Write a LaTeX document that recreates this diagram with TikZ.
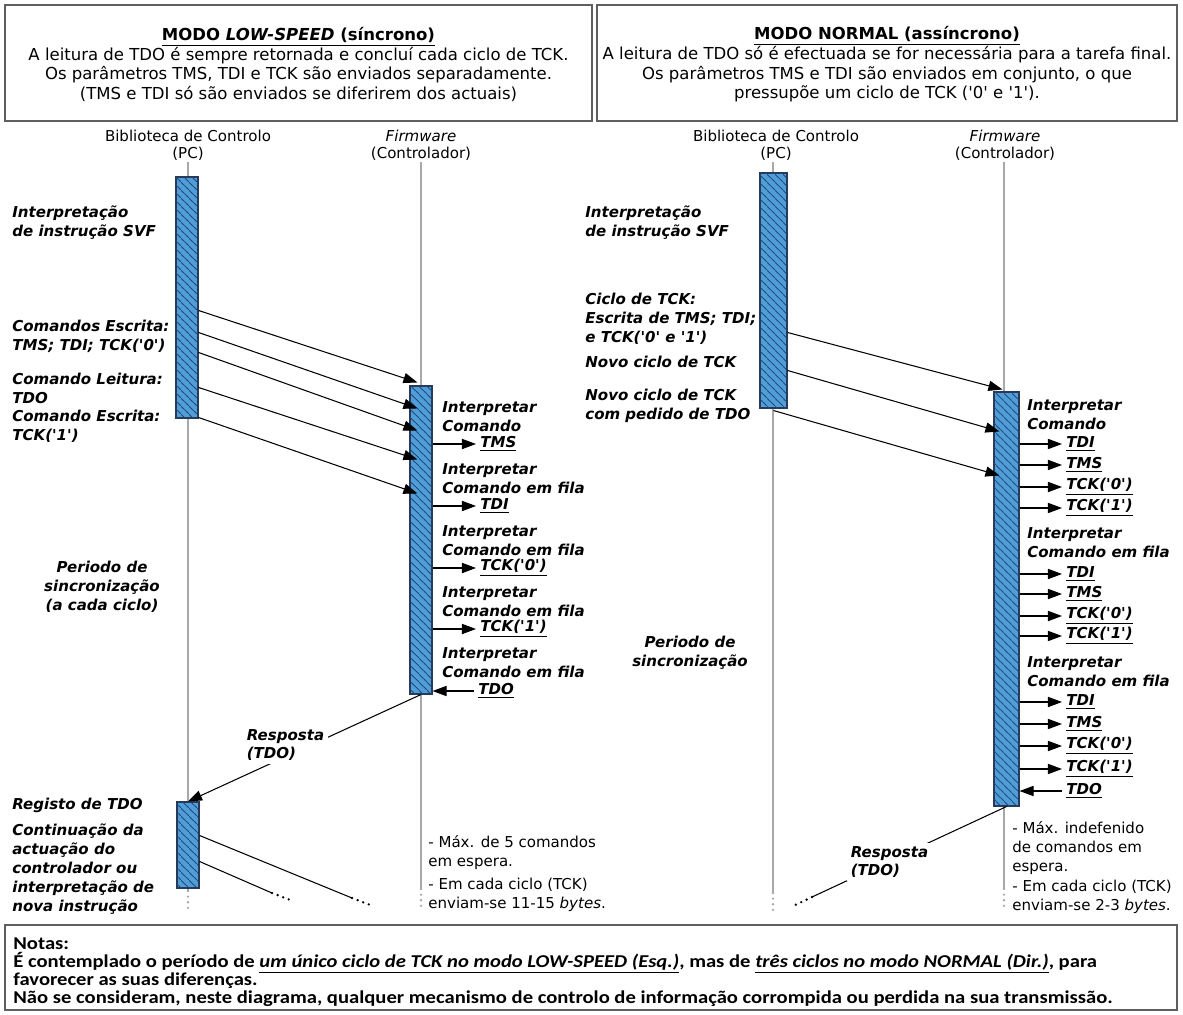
\documentclass[tikz,border=0pt]{standalone}
\usepackage{fontspec}
\setmainfont{DejaVu Sans}
\newfontfamily\notefont[FakeStretch=1.14]{Carlito}
\usetikzlibrary{positioning}
\usetikzlibrary{calc}
\usetikzlibrary{arrows.meta}
\usetikzlibrary{patterns.meta}
\usetikzlibrary{fit}
\definecolor{actblue}{RGB}{80,158,216}
\definecolor{hatchblue}{RGB}{30,70,120}
\definecolor{actedge}{RGB}{40,58,88}
\definecolor{lifegray}{RGB}{168,168,168}
\definecolor{boxgray}{RGB}{95,95,95}
\newcommand{\q}{\textquotesingle}
\newcommand{\sig}[1]{\underline{\textbf{\textit{#1}}}}
\newcommand{\fixedlines}{\lineskiplimit=-20pt\relax}
\tikzdeclarepattern{name=hatch, type=uncolored,
  bounding box={(0pt,0pt) and (4.5pt,4.5pt)}, tile size={(4.5pt,4.5pt)},
  code={\draw[line width=0.5pt] (0pt,4.5pt) -- (4.5pt,0pt);}}

\tikzset{
  act/.style={draw=actedge, line width=0.6pt, fill=actblue, inner sep=0pt,
    postaction={pattern=hatch, pattern color=hatchblue}},
  life/.style={draw=lifegray, line width=0.9pt},
  lifedots/.style={draw=lifegray, line width=1.5pt, line cap=round, dash pattern=on 0pt off 3.2pt},
  dots/.style={line width=1.5pt, line cap=round, dash pattern=on 0pt off 3.4pt},
  msg/.style={-{Triangle[length=8pt,width=5.8pt]}, line width=0.6pt},
  hdr/.style={draw=boxgray, line width=0.7pt, inner sep=0pt},
  hdr text/.style={font=\fontsize{9.4}{11.2}\selectfont\fixedlines, align=center, inner sep=0pt},
  who/.style={font=\fontsize{8.55}{9.7}\selectfont\fixedlines, align=center, inner sep=0pt},
  act label/.style={font=\fontsize{8.55}{10.8}\selectfont\bfseries\itshape, align=left, anchor=west, inner sep=0pt},
  plain/.style={font=\fontsize{8.55}{10.8}\selectfont, align=left, anchor=west, inner sep=0pt},
  sig label/.style={font=\fontsize{8.55}{10.8}\selectfont, anchor=west, inner sep=0pt, outer xsep=2.5pt},
}

\begin{document}
\begin{tikzpicture}[x=0.02cm, y=-0.02cm]
\useasboundingbox (0,0) rectangle (1183,1014);

% mode headers
\node[hdr, fit={(5,5)(592,121)}] (hdrL) {};
\node[hdr, fit={(597,5)(1177,121)}] (hdrR) {};
\node[hdr text] (hdrLtxt) at ($(hdrL)+(0,1.5)$) {%
  \underline{\textbf{MODO \textit{LOW-SPEED} (síncrono)}}\\
  A leitura de TDO é sempre retornada e concluí cada ciclo de TCK.\\
  Os parâmetros TMS, TDI e TCK são enviados separadamente.\\
  (TMS e TDI só são enviados se diferirem dos actuais)};
\node[hdr text] (hdrRtxt) at ($(hdrR)+(0,1.5)$) {%
  \underline{\textbf{MODO NORMAL (assíncrono)}}\\
  A leitura de TDO só é efectuada se for necessária para a tarefa final.\\
  Os parâmetros TMS e TDI são enviados em conjunto, o que\\
  pressupõe um ciclo de TCK (\q0\q{} e \q1\q).};

% participants
\node[who] (libL) at (188,145) {Biblioteca de Controlo\\(PC)};
\node[who] (fwL) at (421,145) {\textit{Firmware}\\(Controlador)};
\node[who] (libR) at (776,145) {Biblioteca de Controlo\\(PC)};
\node[who] (fwR) at (1005,145) {\textit{Firmware}\\(Controlador)};

% lifelines
\coordinate (pcLtop) at (188,162);  \coordinate (pcLend) at (188,891);
\coordinate (fwLtop) at (421,162);  \coordinate (fwLend) at (421,889);
\coordinate (pcRtop) at (773,162);  \coordinate (pcRend) at (773,893);
\coordinate (fwRtop) at (1004,162); \coordinate (fwRend) at (1004,889);
\foreach \n in {pcL, fwL, pcR, fwR} {
  \draw[life] (\n top) -- (\n end);
  \draw[lifedots] (\n end) -- ++(0,22);
}

% activation boxes
\node[act, fit={(176,177)(198,418)}] (pcL1) {};
\node[act, fit={(410,386)(432,694)}] (fwL1) {};
\node[act, fit={(177,802)(199,888)}] (pcL2) {};
\node[act, fit={(760,173)(787,408)}] (pcR1) {};
\node[act, fit={(994,392)(1019,806)}] (fwR1) {};

% LOW-SPEED: PC side
\node[act label] (svfL) at (12,222.5) {Interpretação\\de instrução SVF};
\node[act label] (wrL) at (12,336) {Comandos Escrita:\\TMS; TDI; TCK(\q0\q)};
\node[act label] (rdL) at (12,388) {Comando Leitura:\\TDO};
\node[act label] (ckL) at (12,426.5) {Comando Escrita:\\TCK(\q1\q)};
\node[act label, anchor=center, align=center] (syncL) at (102,587) {Periodo de\\sincronização\\(a cada ciclo)};
\node[act label] (regL) at (12,805) {Registo de TDO};
\node[act label] (contL) at (12,869) {Continuação da\\actuação do\\controlador ou\\interpretação de\\nova instrução};

% commands sent to the controller
\foreach \a/\b in {134/-3, 156/23, 176/45, 211/74, 241/108}
  \draw[msg] ($(pcL1.north east)+(0,\a)$) -- ($(fwL1.north west)+(8,\b)$);

% LOW-SPEED: controller side
\foreach \y/\t [count=\i] in {416.5/Comando, 478.5/Comando em fila, 540.5/Comando em fila, 602/Comando em fila, 663/Comando em fila}
  \node[act label] (itL\i) at (442,\y) {Interpretar\\\t};
\foreach \y/\s [count=\i] in {444/TMS, 506/TDI, 568/TCK(\q0\q), 629/TCK(\q1\q)} {
  \node[sig label] (sL\i) at (476,\y) {\sig{\s}};
  \draw[msg] (fwL1.east |- sL\i) -- (sL\i);
}
\node[sig label] (tdoL) at (474,691) {\sig{TDO}};
\draw[msg] (tdoL) -- (fwL1.east |- tdoL);

% reply
\draw[msg] (fwL1.south) -- (pcL2.north);
\node[act label, fill=white, inner sep=2pt] (respL) at (243,745) {Resposta\\(TDO)};

% what follows
\coordinate (nxL1) at (352,898);
\coordinate (nxL2) at (272,893);
\draw[line width=0.6pt] ($(pcL2.north east)+(0,34)$) -- (nxL1);
\draw[dots] (nxL1) -- ++(21,8);
\draw[line width=0.6pt] ($(pcL2.north east)+(0,60)$) -- (nxL2);
\draw[dots] (nxL2) -- ++(21,8);

\node[plain] (maxL) at (428,853) {- Máx. de 5 comandos\\em espera.};
\node[plain] (bytL) at (428,895) {- Em cada ciclo (TCK)\\enviam-se 11-15 \textit{bytes}.};

% NORMAL: PC side
\node[act label] (svfR) at (585,223) {Interpretação\\de instrução SVF};
\node[act label] (cycR) at (585,319) {Ciclo de TCK:\\Escrita de TMS; TDI;\\e TCK(\q0\q{} e \q1\q)};
\node[act label] (newR) at (585,362) {Novo ciclo de TCK};
\node[act label] (tdoqR) at (585,406) {Novo ciclo de TCK\\com pedido de TDO};
\node[act label, anchor=center, align=center] (syncR) at (690,653) {Periodo de\\sincronização};

\draw[msg] ($(pcR1.north east)+(0,160)$) -- ($(fwR1.north west)+(9,-2)$);
\draw[msg] ($(pcR1.north east)+(0,198)$) -- ($(fwR1.north west)+(6,40)$);
\draw[msg] ($(pcR1.south)+(0,2)$) -- ($(fwR1.north west)+(6,84)$);

% NORMAL: controller side
\foreach \y/\t [count=\i] in {415/Comando, 543/Comando em fila, 672/Comando em fila}
  \node[act label] (itR\i) at (1027,\y) {Interpretar\\\t};
\foreach \y/\s [count=\i] in {444/TDI, 465/TMS, 487/TCK(\q0\q), 508/TCK(\q1\q),
    574/TDI, 594/TMS, 616/TCK(\q0\q), 636/TCK(\q1\q),
    702/TDI, 724/TMS, 746/TCK(\q0\q), 769/TCK(\q1\q)} {
  \node[sig label] (sR\i) at (1062,\y) {\sig{\s}};
  \draw[msg] (fwR1.east |- sR\i) -- (sR\i);
}
\node[sig label] (tdoR) at (1062,791) {\sig{TDO}};
\draw[msg] (tdoR) -- (fwR1.east |- tdoR);

% reply
\coordinate (nxR) at (812,897);
\draw[line width=0.6pt] (fwR1.south) -- (nxR);
\draw[dots] (nxR) -- ++(-21,10);
\node[act label, fill=white, inner sep=2pt] (respR) at (847,862) {Resposta\\(TDO)};

\node[plain] (maxR) at (1012,848) {- Máx. indefenido\\de comandos em\\espera.};
\node[plain] (bytR) at (1012,897) {- Em cada ciclo (TCK)\\enviam-se 2-3 \textit{bytes}.};

% notes
\node[hdr, fit={(5,925)(1177,1010)}] (notes) {};
\node[anchor=west, align=left, inner sep=0pt,
  font=\notefont\fontsize{10.3}{10.2}\selectfont\bfseries\fixedlines] (notesTxt) at (13,972) {%
  Notas:\\
  É contemplado o período de \underline{\textit{um único ciclo de TCK no modo LOW-SPEED (Esq.)}}, mas de \underline{\textit{três ciclos no modo NORMAL (Dir.)}}, para\\
  favorecer as suas diferenças.\\
  Não se consideram, neste diagrama, qualquer mecanismo de controlo de informação corrompida ou perdida na sua transmissão.};
\end{tikzpicture}
\end{document}
